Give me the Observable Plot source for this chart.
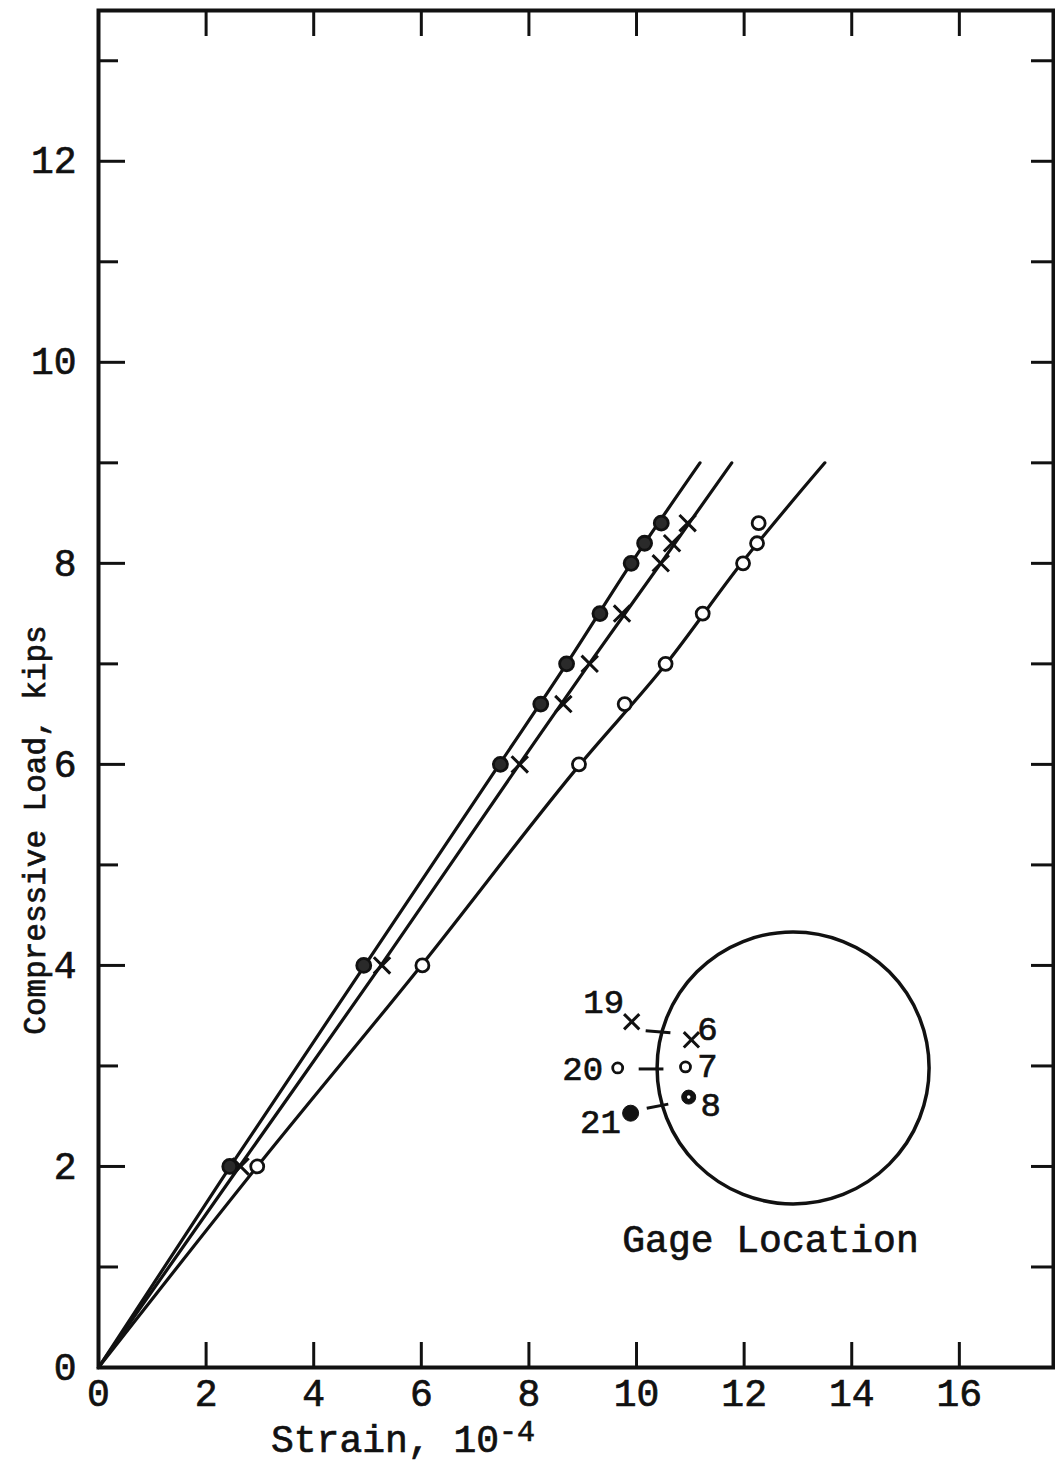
<!DOCTYPE html>
<html>
<head>
<meta charset="utf-8">
<script src="https://cdn.jsdelivr.net/npm/d3@7"></script>
<script src="https://cdn.jsdelivr.net/npm/@observablehq/plot@0.6"></script>
<style>
  html, body { margin: 0; padding: 0; background: #fff; }
  #chart svg { display: block; }
  #chart svg text { stroke: #111; stroke-width: 0.7px; }
</style>
</head>
<body>
<div id="chart"></div>
<script>
// ---------- data ----------
const loads = [2, 4, 6, 6.6, 7, 7.5, 8, 8.2, 8.4];                                   // compressive load, kips
const strainSolid = [2.44, 4.93, 7.47, 8.22, 8.70, 9.32, 9.90, 10.15, 10.46];       // gages 8 & 21 (solid)
const strainCross = [2.64, 5.27, 7.83, 8.64, 9.13, 9.73, 10.45, 10.66, 10.95];      // gages 6 & 19 (cross)
const strainOpen  = [2.95, 6.02, 8.93, 9.78, 10.54, 11.23, 11.98, 12.24, 12.27];    // gages 7 & 20 (open)

// faired curves drawn through the points
const curveLoads = [0, 2, 4, 6, 7, 8, 9];
const curveSolid = [0, 2.45, 4.95, 7.45, 8.70, 9.90, 11.18];
const curveCross = [0, 2.62, 5.25, 7.82, 9.12, 10.45, 11.77];
const curveOpen  = [0, 2.95, 6.00, 8.95, 10.55, 11.95, 13.50];

// axes
const xTickValues = [0, 2, 4, 6, 8, 10, 12, 14, 16];
const yTickValues = [0, 2, 4, 6, 8, 10, 12];
const yMinorValues = [1, 3, 5, 7, 9, 11, 13];
const xLabel = "Strain, 10";
const xLabelExp = "-4";
const yLabel = "Compressive Load, kips";

// inset "Gage Location" (data units)
const insetTitle = "Gage Location";
const gageNames  = ["19", "6", "20", "7", "21", "8"];
const gageNameX  = [9.39, 11.32, 9.0, 11.32, 9.33, 11.38];
const gageNameY  = [3.64, 3.37, 2.97, 3.0, 2.44, 2.61];
const gageKind   = ["cross", "cross", "open", "open", "solid", "ring"];
const gageSymX   = [9.91, 11.02, 9.65, 10.91, 9.89, 10.97];
const gageSymY   = [3.44, 3.26, 2.98, 2.99, 2.53, 2.69];
const sectionX = [12.91], sectionY = [2.98];
const gageTickX1 = [10.17, 10.04, 10.19], gageTickX2 = [10.63, 10.50, 10.59];
const gageTickY1 = [3.35, 2.97, 2.58],    gageTickY2 = [3.33, 2.97, 2.62];
const titleX = [12.49], titleY = [1.27];

// ---------- rendering ----------
const W = 1055, H = 1465;
const mL = 98, mR = 2, mT = 10, mB = 98;
const fw = W - mL - mR, fh = H - mT - mB;
const FONT = "'Liberation Mono', 'DejaVu Sans Mono', monospace";
const ink = "#111";

const pts = (xs, ys) => xs.map((x, i) => ({x, y: ys[i]}));
const gageSyms = gageKind.map((k, i) => ({k, x: gageSymX[i], y: gageSymY[i]}));
const gageText = gageNames.map((t, i) => ({t, x: gageNameX[i], y: gageNameY[i]}));
const gageTicks = gageTickX1.map((x1, i) => ({x1, x2: gageTickX2[i], y1: gageTickY1[i], y2: gageTickY2[i]}));

const plot = Plot.plot({
  width: W, height: H,
  marginLeft: mL, marginRight: mR, marginTop: mT, marginBottom: mB,
  x: {domain: [0, 17.75], ticks: xTickValues, tickSize: 0, tickPadding: 12, label: null},
  y: {domain: [0, 13.5], ticks: yTickValues, tickSize: 0, tickPadding: 22, label: null},
  style: {fontFamily: FONT, fontSize: "38px", color: ink, background: "#fff", overflow: "visible"},
  marks: [
    Plot.frame({stroke: ink, strokeWidth: 4}),
    // inward ticks
    Plot.tickX(xTickValues.slice(1), {x: d => d, insetTop: fh - 25, stroke: ink, strokeWidth: 3}),
    Plot.tickX(xTickValues.slice(1), {x: d => d, insetBottom: fh - 26, stroke: ink, strokeWidth: 3}),
    Plot.tickY(yTickValues.slice(1), {y: d => d, insetRight: fw - 27, stroke: ink, strokeWidth: 3}),
    Plot.tickY(yMinorValues, {y: d => d, insetRight: fw - 20, stroke: ink, strokeWidth: 3}),
    Plot.tickY([...yTickValues.slice(1), ...yMinorValues], {y: d => d, insetLeft: fw - 22, stroke: ink, strokeWidth: 3}),
    // faired curves
    Plot.line(pts(curveSolid, curveLoads), {x: "x", y: "y", curve: "monotone-x", stroke: ink, strokeWidth: 3.2}),
    Plot.line(pts(curveCross, curveLoads), {x: "x", y: "y", curve: "monotone-x", stroke: ink, strokeWidth: 3.2}),
    Plot.line(pts(curveOpen, curveLoads), {x: "x", y: "y", curve: "monotone-x", stroke: ink, strokeWidth: 3.2}),
    // test points
    Plot.dot(pts(strainOpen, loads), {x: "x", y: "y", r: 6.5, fill: "#fff", stroke: ink, strokeWidth: 2.8}),
    Plot.dot(pts(strainCross, loads), {x: "x", y: "y", symbol: "times", r: 7.5, stroke: ink, strokeWidth: 3}),
    Plot.dot(pts(strainSolid, loads), {x: "x", y: "y", r: 7, fill: "#2a2a2a", stroke: ink, strokeWidth: 2.8}),
    // inset: cross-section
    Plot.dot(pts(sectionX, sectionY), {x: "x", y: "y", r: 136, fill: "none", stroke: ink, strokeWidth: 3.5, ariaLabel: "section"}),
    Plot.link(gageTicks, {x1: "x1", y1: "y1", x2: "x2", y2: "y2", stroke: ink, strokeWidth: 3}),
    Plot.dot(gageSyms.filter(d => d.k === "cross"), {x: "x", y: "y", symbol: "times", r: 7, stroke: ink, strokeWidth: 3}),
    Plot.dot(gageSyms.filter(d => d.k === "open"), {x: "x", y: "y", r: 5, fill: "#fff", stroke: ink, strokeWidth: 2.8}),
    Plot.dot(gageSyms.filter(d => d.k === "solid"), {x: "x", y: "y", r: 8, fill: ink, stroke: ink, strokeWidth: 1}),
    Plot.dot(gageSyms.filter(d => d.k === "ring"), {x: "x", y: "y", r: 7, fill: ink, stroke: ink, strokeWidth: 1}),
    Plot.dot(gageSyms.filter(d => d.k === "ring"), {x: "x", y: "y", r: 1.8, fill: "#fff", stroke: "none"}),
    Plot.text(gageText, {x: "x", y: "y", text: "t", fontSize: 34, fill: ink}),
    Plot.text(pts(titleX, titleY), {x: "x", y: "y", text: () => insetTitle, fontSize: 38, fill: ink})
  ]
});

const svgNode = plot.tagName.toLowerCase() === "svg" ? plot : plot.querySelector("svg");
const svg = d3.select(svgNode);

// slightly elliptical section outline, as in the drawing
svg.selectAll('g[aria-label="section"] circle').each(function() {
  const c = d3.select(this);
  const cx = +c.attr("cx") || 0, cy = +c.attr("cy") || 0;
  c.attr("transform", `translate(${cx},${cy}) scale(1.033,0.967) translate(${-cx},${-cy})`)
   .attr("vector-effect", "non-scaling-stroke");
});

// axis titles
const xt = svg.append("text")
  .attr("x", 403).attr("y", 1452)
  .attr("font-family", FONT).attr("font-size", 38).attr("fill", ink);
xt.append("tspan").text(xLabel);
xt.append("tspan").attr("dy", -11).attr("font-size", 30).text(xLabelExp);

svg.append("text")
  .attr("transform", "translate(45,830) rotate(-90)")
  .attr("text-anchor", "middle")
  .attr("font-family", FONT).attr("font-size", 31).attr("fill", ink)
  .text(yLabel);

document.getElementById("chart").appendChild(plot);
</script>
</body>
</html>
